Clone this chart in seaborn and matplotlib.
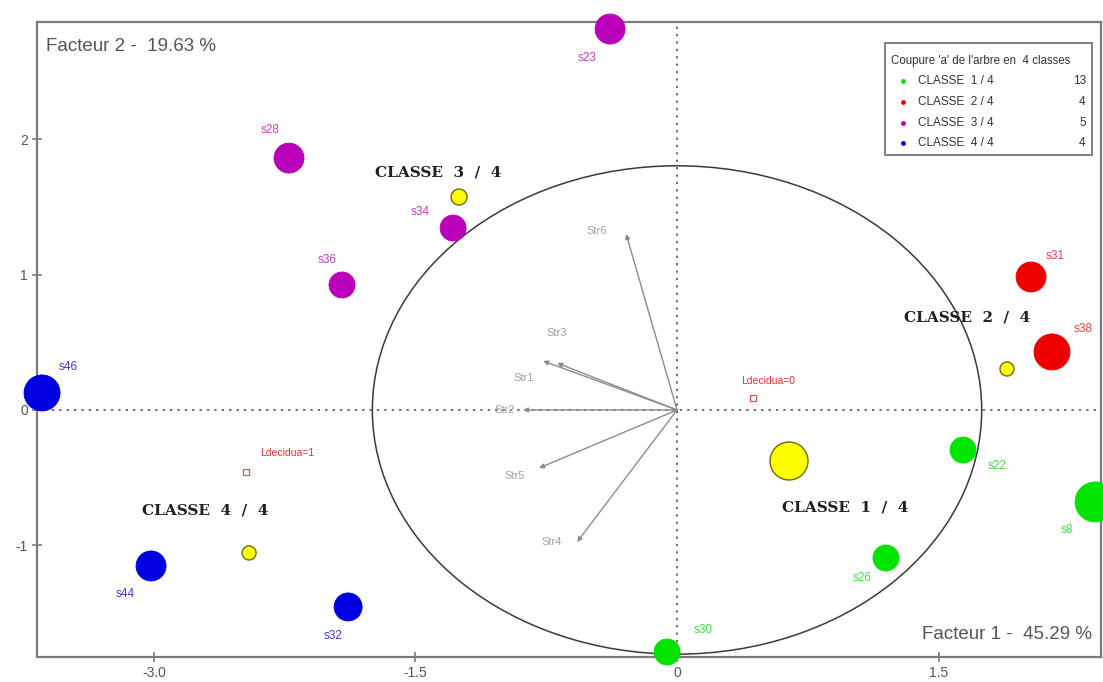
import numpy as np
import pandas as pd
import matplotlib
matplotlib.use("Agg")
import matplotlib.pyplot as plt
from matplotlib.patches import Ellipse
import seaborn as sns

# Individus : coordonnées sur les deux premiers facteurs
individus = ["s23", "s28", "s34", "s36", "s46", "s44", "s32",
             "s31", "s38", "s22", "s8", "s26", "s30"]
facteur1 = [-0.384, -2.225, -1.284, -1.921, -3.641, -3.016, -1.886,
            2.030, 2.150, 1.640, 2.397, 1.198, -0.057]
facteur2 = [2.816, 1.862, 1.345, 0.924, 0.126, -1.153, -1.456,
            0.983, 0.429, -0.296, -0.680, -1.094, -1.789]
classe = [3, 3, 3, 3, 4, 4, 4, 2, 2, 1, 1, 1, 1]
poids = [15, 15, 13, 13, 18, 15, 14, 15, 18, 13, 20, 13, 13]

# Centres des classes
classes_noms = ["CLASSE 1 / 4", "CLASSE 2 / 4", "CLASSE 3 / 4", "CLASSE 4 / 4"]
classes_f1 = [0.642, 1.892, -1.250, -2.454]
classes_f2 = [-0.377, 0.303, 1.574, -1.057]
classes_poids = [19, 7, 8, 7]
classes_effectifs = [13, 4, 5, 4]

# Variables actives
variables = ["Str1", "Str2", "Str3", "Str4", "Str5", "Str6"]
var_f1 = [-0.768, -0.883, -0.688, -0.573, -0.791, -0.292]
var_f2 = [0.362, 0.0, 0.347, -0.976, -0.429, 1.301]

# Modalités supplémentaires
modalites = ["Ldecidua=0", "Ldecidua=1"]
mod_f1 = [0.436, -2.471]
mod_f2 = [0.089, -0.458]

inertie = [45.29, 19.63]
titre_partition = "Coupure 'a' de l'arbre en  4 classes"

# ---- style ----
sns.set_style("white")
plt.rcParams["font.family"] = ["Liberation Sans", "DejaVu Sans"]

couleurs = {1: "#00e400", 2: "#ee0000", 3: "#bb00bb", 4: "#0000e0"}
couleurs_txt = {1: "#40dd40", 2: "#e84040", 3: "#c040c0", 4: "#3a3ad0"}
gris_cadre = "#7a7a7a"
PX = 0.72  # points par pixel à 100 dpi

fig = plt.figure(figsize=(11.03, 6.82), dpi=100)
W, H = 1103, 682
ax = fig.add_axes([37 / W, 1 - 657 / H, (1101 - 37) / W, (657 - 22) / H])
ax.set_xlim(-3.670, 2.431)
ax.set_ylim(-1.826, 2.868)

# axes factoriels en pointillés
ax.axhline(0, color="#6e6e6e", lw=1.4, ls=(0, (1.2, 2.6)), zorder=1)
ax.axvline(0, color="#6e6e6e", lw=1.4, ls=(0, (1.2, 2.6)), zorder=1)

# cercle des corrélations
ax.add_patch(Ellipse((0, 0), 2 * 1.747, 2 * 1.805, fill=False,
                     ec="#3a3a3a", lw=1.1, zorder=2))

# flèches des variables actives
decal_var = {"Str1": (-19, 17), "Str2": (-18, 0), "Str3": (0, -30),
             "Str4": (-25, 0), "Str5": (-24, 8), "Str6": (-29, -3)}
for nom, x, y in zip(variables, var_f1, var_f2):
    ax.annotate("", xy=(x, y), xytext=(0, 0),
                arrowprops=dict(arrowstyle="-|>", color="#8c8c8c", lw=1.0,
                                mutation_scale=7, shrinkA=0, shrinkB=0),
                zorder=3)
    dx, dy = decal_var[nom]
    ax.annotate(nom, (x, y), xytext=(dx * PX, -dy * PX), textcoords="offset points",
                ha="center", va="center", fontsize=8, color="#a0a0a0", zorder=4)

# modalités supplémentaires
decal_mod = [(15, -17), (41, -19)]
ax.scatter(mod_f1, mod_f2, marker="s", s=22, facecolor="none",
           edgecolor="#e05050", lw=0.9, zorder=4)
for nom, x, y, (dx, dy) in zip(modalites, mod_f1, mod_f2, decal_mod):
    ax.annotate(nom, (x, y), xytext=(dx * PX, -dy * PX), textcoords="offset points",
                ha="center", va="center", fontsize=7.5, color="#e03030", zorder=4)

# individus
df = pd.DataFrame({"f1": facteur1, "f2": facteur2, "classe": classe,
                   "nom": individus, "poids": poids})
tailles = [(2 * p * PX) ** 2 for p in poids]
sns.scatterplot(data=df, x="f1", y="f2", hue="classe", palette=couleurs,
                s=tailles, linewidth=0.6, edgecolor="face", legend=False,
                ax=ax, zorder=5, clip_on=False)

decal_ind = {"s23": (-23, 29), "s28": (-19, -28), "s34": (-33, -16),
             "s36": (-15, -25), "s46": (26, -26), "s44": (-26, 28),
             "s32": (-15, 29), "s31": (24, -21), "s38": (31, -23),
             "s22": (34, 16), "s8": (-28, 28), "s26": (-24, 20),
             "s30": (36, -22)}
for nom, x, y, c in zip(individus, facteur1, facteur2, classe):
    dx, dy = decal_ind[nom]
    ax.annotate(nom, (x, y), xytext=(dx * PX, -dy * PX), textcoords="offset points",
                ha="center", va="center", fontsize=8.5, color=couleurs_txt[c],
                zorder=6, annotation_clip=False)

# centres de classes
dfc = pd.DataFrame({"f1": classes_f1, "f2": classes_f2, "nom": classes_noms})
sns.scatterplot(data=dfc, x="f1", y="f2", color="#ffff00",
                s=[(2 * p * PX) ** 2 for p in classes_poids],
                edgecolor="#6b6b00", linewidth=1.0, legend=False, ax=ax, zorder=6)
decal_cls = [(56, 47), (-40, -51), (-21, -25), (-44, -42)]
for nom, x, y, (dx, dy) in zip(classes_noms, classes_f1, classes_f2, decal_cls):
    ax.annotate(nom.replace(" ", "  "), (x, y), xytext=(dx * PX, -dy * PX),
                textcoords="offset points", ha="center", va="center",
                fontsize=11, fontweight="bold", family="DejaVu Serif",
                color="#202020", zorder=7)

# graduations et cadre
ax.set_xticks([-3.0, -1.5, 0, 1.5])
ax.set_xticklabels(["-3.0", "-1.5", "0", "1.5"])
ax.set_yticks([-1, 0, 1, 2])
ax.set_yticklabels(["-1", "0", "1", "2"])
ax.tick_params(direction="inout", length=7, width=1.2, color=gris_cadre,
               labelcolor="#555555", labelsize=10, pad=3,
               bottom=True, left=True)
ax.set_xlabel("")
ax.set_ylabel("")
for sp in ax.spines.values():
    sp.set_color(gris_cadre)
    sp.set_linewidth(1.6)

ax.text(0.008, 0.975, f"Facteur 2 -  {inertie[1]:.2f} %", transform=ax.transAxes,
        ha="left", va="top", fontsize=13.5, color="#555555")
ax.text(0.992, 0.022, f"Facteur 1 -  {inertie[0]:.2f} %", transform=ax.transAxes,
        ha="right", va="bottom", fontsize=13.5, color="#555555")

# cartouche de la partition
lg = fig.add_axes([885 / W, 1 - 155 / H, (1092 - 885) / W, (155 - 43) / H])
lg.set_xlim(0, 1)
lg.set_ylim(0, 1)
lg.set_xticks([])
lg.set_yticks([])
for sp in lg.spines.values():
    sp.set_color("#808080")
    sp.set_linewidth(1.4)
lg.text(0.03, 0.84, titre_partition, ha="left", va="center", fontsize=8.3,
        color="#333333")
ys = [0.66, 0.47, 0.29, 0.11]
for i, (nom, n) in enumerate(zip(classes_noms, classes_effectifs)):
    lg.scatter([0.085], [ys[i]], s=6, color=couleurs[i + 1])
    lg.text(0.16, ys[i], nom.replace("E ", "E  "), ha="left", va="center",
            fontsize=8.5, color="#333333")
    lg.text(0.97, ys[i], str(n), ha="right", va="center", fontsize=8.5,
            color="#333333")

fig.savefig("out.png", dpi=100)
